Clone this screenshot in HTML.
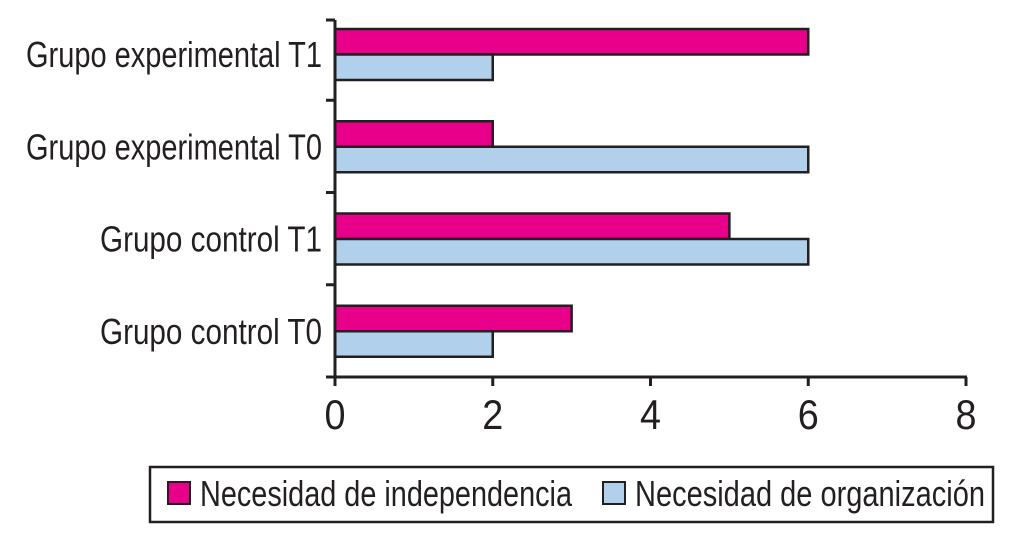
<!DOCTYPE html>
<html><head><meta charset="utf-8"><style>
html,body{margin:0;padding:0;background:#fff}
svg{display:block}
text{font-family:"Liberation Sans Narrow","Liberation Sans",sans-serif;fill:#231f20}
</style></head><body>
<svg id="chart" width="1012" height="554" viewBox="0 0 1012 554" xmlns="http://www.w3.org/2000/svg"></svg>
<script>
const categories = ["Grupo experimental T1","Grupo experimental T0","Grupo control T1","Grupo control T0"];
const independencia = [6,2,5,3];
const organizacion = [2,6,6,2];
const xTicks = [0,2,4,6,8];
const seriesNames = ["Necesidad de independencia","Necesidad de organización"];
const catWidths = [296,296,222,222];

const svg = document.getElementById('chart');
const NS = 'http://www.w3.org/2000/svg';
const x0 = 335, x1 = 966, xMax = 8;
const bandTop = 8, bandH = 92.25;
const X = v => x0 + v/xMax*(x1-x0);
const bandY = i => bandTop + i*bandH;
function mk(tag, attrs){const e=document.createElementNS(NS,tag);for(const k in attrs)e.setAttribute(k,attrs[k]);svg.appendChild(e);return e;}

categories.forEach((c,i)=>{
  const y = bandY(i)+21;
  const b1 = mk('rect',{x:X(0),y:y,width:X(independencia[i])-X(0),height:25.5,fill:'#e8008a',stroke:'#231f20','stroke-width':2.5});
  
  
  const b2 = mk('rect',{x:X(0),y:y+25.5,width:X(organizacion[i])-X(0),height:25.5,fill:'#b1d0ec',stroke:'#231f20','stroke-width':2.5});
  
  
  const t = mk('text',{x:322,y:y+38,'text-anchor':'end','font-size':36,textLength:catWidths[i],lengthAdjust:'spacingAndGlyphs'});
  t.textContent = c;
  
  
});
const ya = mk('line',{x1:x0,y1:20,x2:x0,y2:378,stroke:'#231f20','stroke-width':3});


for(let i=1;i<=4;i++){
  const tk = mk('line',{x1:x0-9,y1:i===4?377:bandY(i),x2:x0,y2:i===4?377:bandY(i),stroke:'#231f20','stroke-width':3});
  
  
}
const tk0 = mk('line',{x1:x0-9,y1:20,x2:x0,y2:20,stroke:'#231f20','stroke-width':3});


const xa = mk('line',{x1:x0-9,y1:377,x2:x1+1,y2:377,stroke:'#231f20','stroke-width':3});


xTicks.forEach(v=>{
  const l = mk('line',{x1:X(v),y1:377,x2:X(v),y2:386,stroke:'#231f20','stroke-width':3});
  
  
  const t = mk('text',{x:X(v),y:429,'text-anchor':'middle','font-size':42,textLength:21,lengthAdjust:'spacingAndGlyphs'});
  t.textContent = v;
  
  
});
const lb = mk('rect',{x:150,y:467,width:843,height:55,fill:'none',stroke:'#231f20','stroke-width':2.5});


const lx = [168,603], tw=[372,350], cols=['#e8008a','#b1d0ec'];
seriesNames.forEach((n,i)=>{
  const s = mk('rect',{x:lx[i],y:482,width:22,height:22,fill:cols[i],stroke:'#231f20','stroke-width':2});
  
  
  const t = mk('text',{x:lx[i]+32,y:506,'font-size':36,textLength:tw[i],lengthAdjust:'spacingAndGlyphs'});
  t.textContent = n;
  
  
});
</script>
</body></html>
